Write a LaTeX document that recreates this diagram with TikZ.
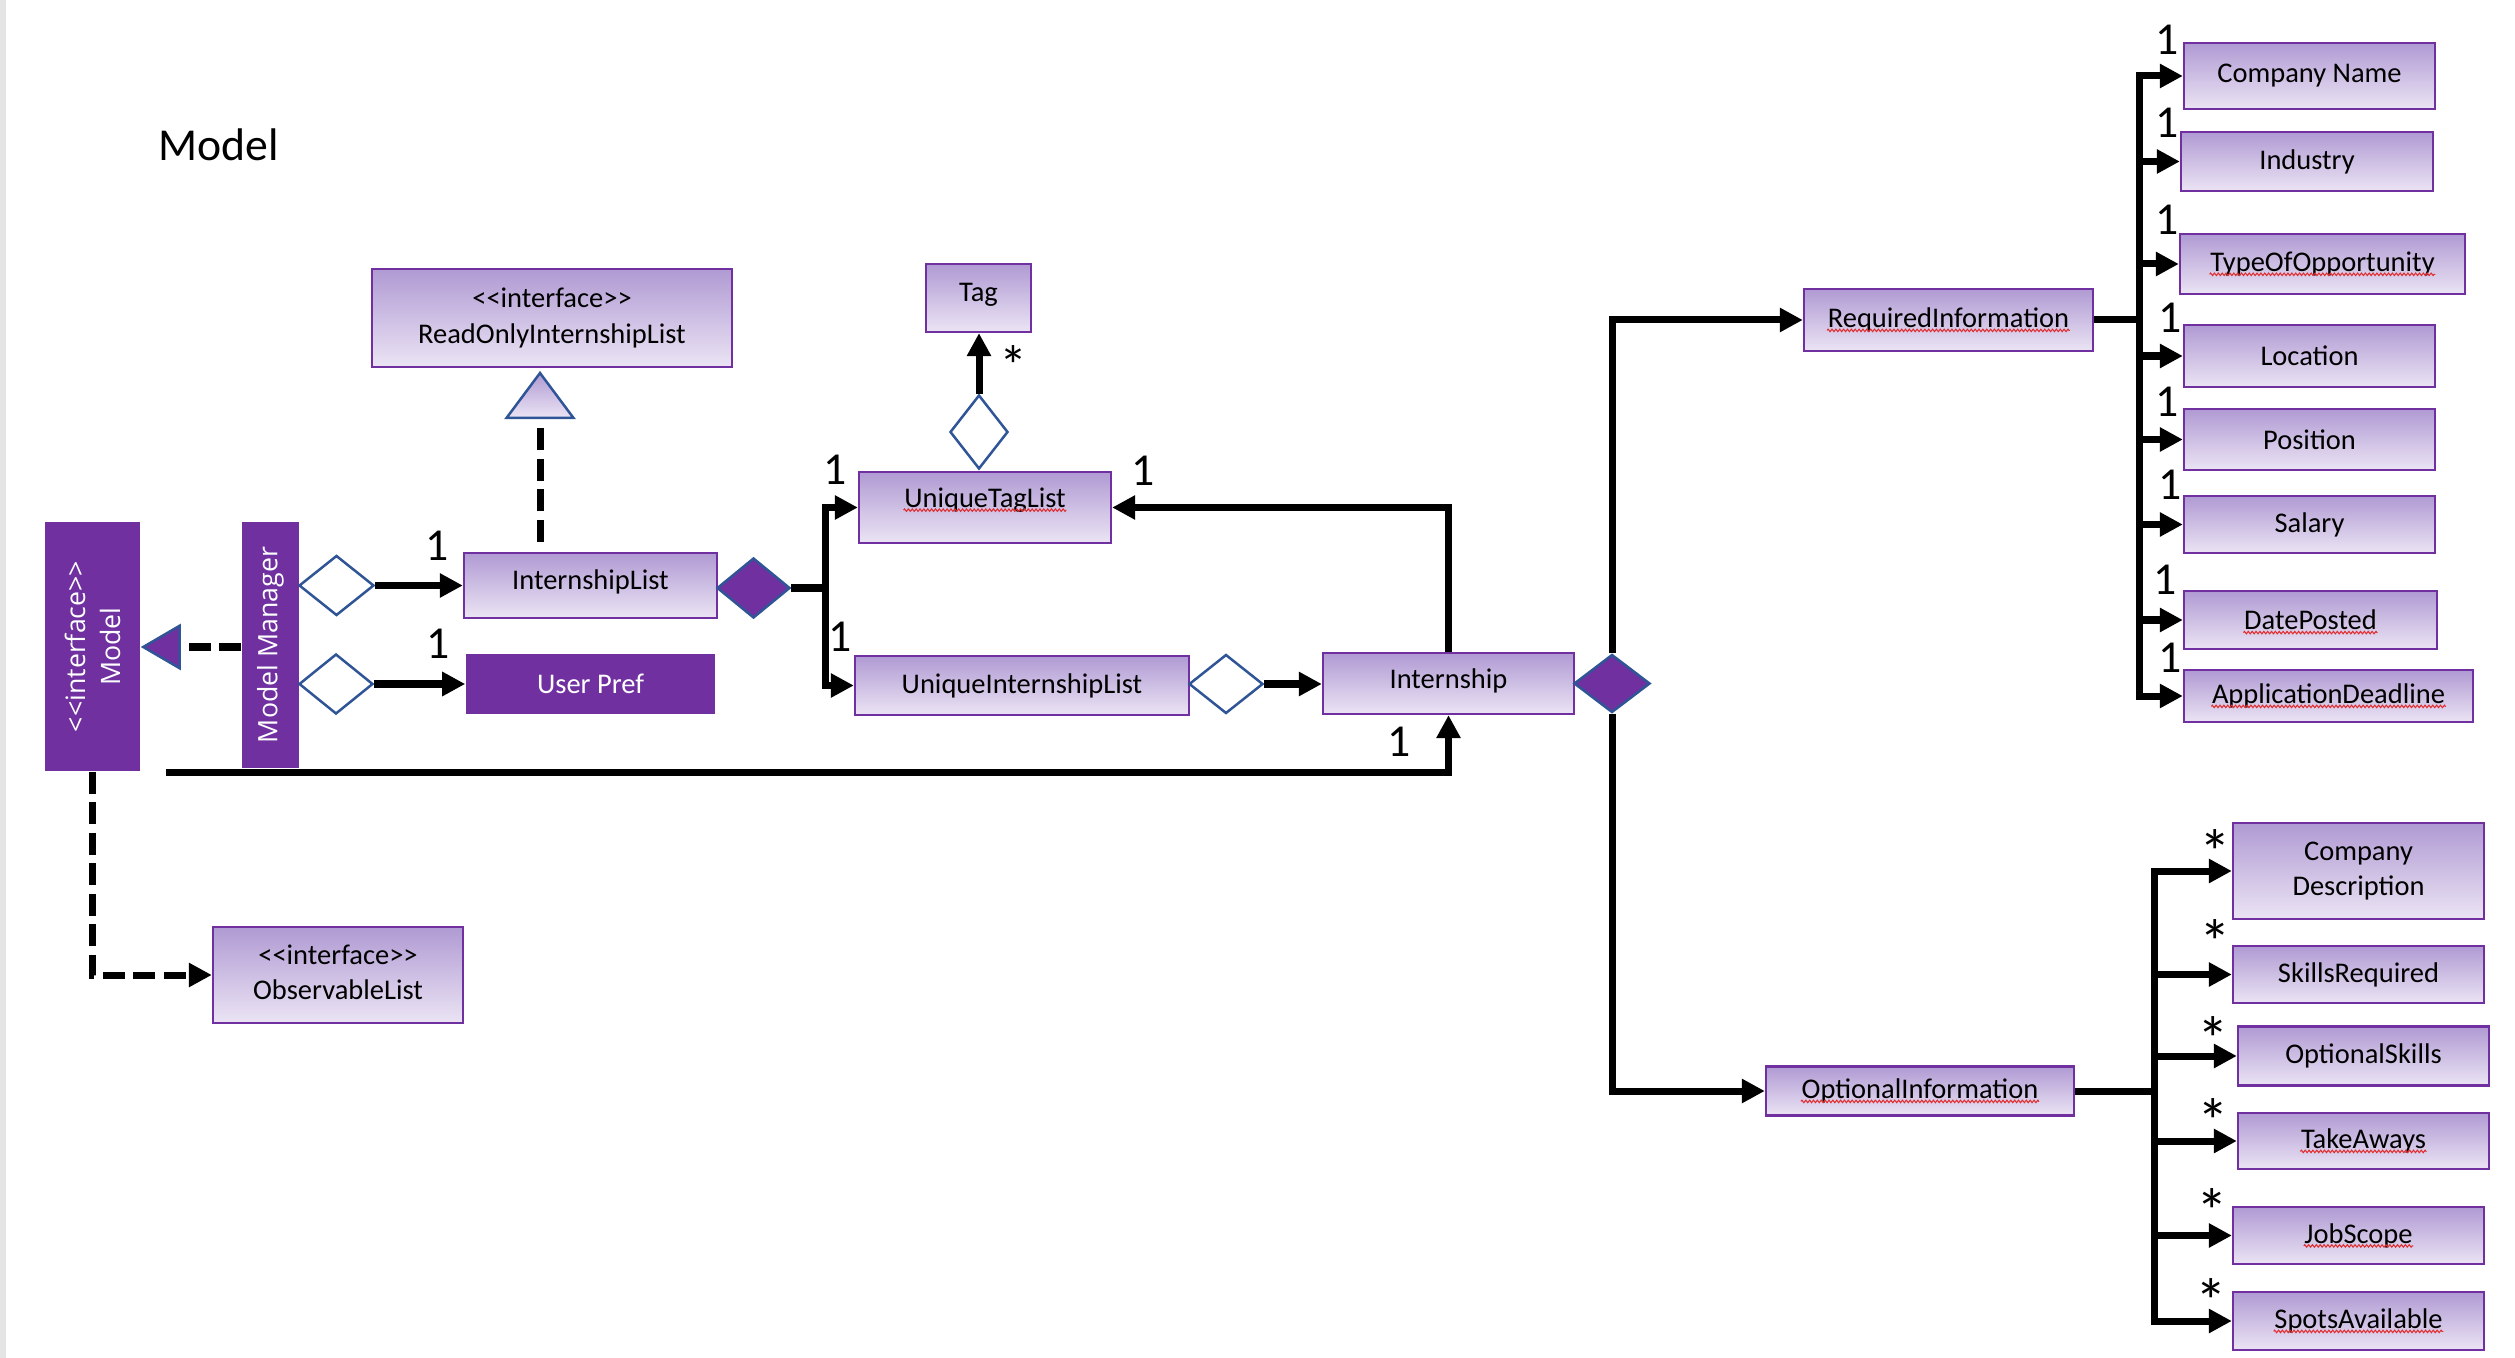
\documentclass[tikz,border=0pt]{standalone}
\usepackage{fontspec}
\setmainfont{Carlito}
\newfontfamily\bannerfont{Open Sans}
\usetikzlibrary{arrows.meta,shapes.geometric,decorations.pathmorphing}

\definecolor{umlpurple}{HTML}{7030A0}
\definecolor{gradtop}{RGB}{176,154,211}
\definecolor{gradbot}{RGB}{235,228,244}
\definecolor{diaedge}{HTML}{2F5597}
\definecolor{pageedge}{RGB}{228,228,228}
\definecolor{spellred}{RGB}{225,45,45}

% guillemet-safe stereotype brackets
\newcommand\stereo[1]{<\kern0pt<#1>\kern0pt>}
% text node with a red wavy underline: name, position, text
\newcommand\spelltext[3]{%
  \node[txt] (#1-t) at (#2) {#3};
  \draw[squig] ([yshift=-0.8pt]#1-t.base west) -- ([yshift=-0.8pt]#1-t.base east);}

\begin{document}
\begin{tikzpicture}[x=0.01cm, y=-0.01cm,
  cls/.style={rectangle, draw=umlpurple, line width=0.022cm,
    top color=gradtop, bottom color=gradbot, inner sep=0pt, align=center,
    font=\fontsize{8.1}{10}\selectfont},
  filledcls/.style={rectangle, fill=umlpurple, draw=none, text=white,
    inner sep=0pt, align=center, font=\fontsize{8.1}{10}\selectfont},
  banner/.style={rotate=90, text=white, inner sep=0pt, align=center,
    font=\bannerfont\fontsize{7.6}{10}\selectfont},
  txt/.style={inner sep=0pt, font=\fontsize{8.1}{10}\selectfont},
  mult/.style={inner sep=0pt, font=\fontsize{13}{15}\selectfont},
  many/.style={inner sep=0pt, anchor=base, font=\fontsize{18}{20}\selectfont},
  conn/.style={line width=0.07cm, draw=black},
  arr/.style={conn, -{Triangle[length=0.23cm, width=0.23cm]}},
  dashconn/.style={conn, dash pattern=on 0.22cm off 0.085cm},
  dasharr/.style={dashconn, -{Triangle[length=0.23cm, width=0.23cm]}},
  hollowdia/.style={diamond, draw=diaedge, fill=white, line width=0.025cm, inner sep=0pt},
  fulldia/.style={diamond, draw=diaedge, fill=umlpurple, line width=0.025cm, inner sep=0pt},
  squig/.style={draw=spellred, line width=0.3pt, decorate,
    decoration={zigzag, amplitude=0.35pt, segment length=1.1pt}},
]
\useasboundingbox (0,0) rectangle (2515,1358);
\fill[pageedge] (0,0) rectangle (6,1358);

% title
\node[anchor=base west, inner sep=0pt, font=\fontsize{13}{15}\selectfont] (title) at (158,161) {Model};

% left column
\node[filledcls, minimum width=0.95cm, minimum height=2.49cm] (model) at (92.5,646.5) {};
\node[banner] (model-t) at (model) {\stereo{interface}\\Model};
\node[filledcls, minimum width=0.57cm, minimum height=2.46cm] (mm) at (270.5,645) {};
\node[banner] (mm-t) at (mm) {Model Manager};

\node[cls, minimum width=3.60cm, minimum height=0.98cm] (rol) at (552,318) {\stereo{interface}\\ReadOnlyInternshipList};
\node[cls, minimum width=2.53cm, minimum height=0.65cm] (il) at (590.5,585.5) {};
\node[txt] (il-t) at (590.5,582) {InternshipList};
\node[filledcls, minimum width=2.49cm, minimum height=0.60cm] (up) at (590.5,684) {User Pref};
\node[cls, minimum width=2.50cm, minimum height=0.96cm] (obs) at (338,975) {};
\node[txt, align=center] (obs-t) at (338,972) {\stereo{interface}\\ObservableList};

% middle
\node[cls, minimum width=1.05cm, minimum height=0.68cm] (tag) at (978.5,298) {};
\node[txt] (tag-t) at (978.5,295) {Tag};
\node[cls, minimum width=2.52cm, minimum height=0.71cm] (utl) at (985,507.5) {};
\spelltext{utl}{985,500}{UniqueTagList}
\node[cls, minimum width=3.34cm, minimum height=0.59cm] (uil) at (1022,685.5) {UniqueInternshipList};
\node[cls, minimum width=2.51cm, minimum height=0.61cm] (intern) at (1448.5,683.5) {};
\node[txt] (intern-t) at (1448.5,681) {Internship};

% information groups
\node[cls, minimum width=2.89cm, minimum height=0.62cm] (req) at (1948.5,320) {};
\spelltext{req}{req}{RequiredInformation}
\node[cls, minimum width=3.08cm, minimum height=0.49cm] (opt) at (1920,1091) {};
\spelltext{opt}{opt}{OptionalInformation}

% required fields
\node[cls, minimum width=2.51cm, minimum height=0.66cm] (cname) at (2309.5,76) {Company Name};
\node[cls, minimum width=2.52cm, minimum height=0.59cm] (ind) at (2307,161.5) {Industry};
\node[cls, minimum width=2.85cm, minimum height=0.60cm] (too) at (2322.5,264) {};
\spelltext{too}{too}{TypeOfOpportunity}
\node[cls, minimum width=2.51cm, minimum height=0.62cm] (loc) at (2309.5,356) {Location};
\node[cls, minimum width=2.51cm, minimum height=0.61cm] (pos) at (2309.5,439.5) {Position};
\node[cls, minimum width=2.51cm, minimum height=0.57cm] (sal) at (2309.5,524.5) {Salary};
\node[cls, minimum width=2.53cm, minimum height=0.58cm] (dp) at (2310.5,620) {};
\spelltext{dp}{dp}{DatePosted}
\node[cls, minimum width=2.89cm, minimum height=0.52cm] (ad) at (2328.5,696) {};
\spelltext{ad}{ad}{ApplicationDeadline}

% optional fields
\node[cls, minimum width=2.51cm, minimum height=0.96cm] (cd) at (2358.5,871) {Company\\Description};
\node[cls, minimum width=2.51cm, minimum height=0.57cm] (sr) at (2358.5,974.5) {SkillsRequired};
\node[cls, minimum width=2.51cm, minimum height=0.59cm] (os) at (2363.5,1056) {OptionalSkills};
\node[cls, minimum width=2.51cm, minimum height=0.56cm] (ta) at (2363.5,1141) {};
\spelltext{ta}{ta}{TakeAways}
\node[cls, minimum width=2.51cm, minimum height=0.57cm] (js) at (2358.5,1235.5) {};
\spelltext{js}{js}{JobScope}
\node[cls, minimum width=2.51cm, minimum height=0.58cm] (sa) at (2358.5,1321) {};
\spelltext{sa}{sa}{SpotsAvailable}

% aggregation / composition diamonds
\node[hollowdia, minimum width=0.75cm, minimum height=0.60cm] (d1) at (336.5,585.5) {};
\node[hollowdia, minimum width=0.74cm, minimum height=0.60cm] (d2) at (336,684) {};
\node[fulldia, minimum width=0.73cm, minimum height=0.60cm] (d3) at (753.5,588) {};
\node[hollowdia, minimum width=0.58cm, minimum height=0.74cm] (d4) at (979,432) {};
\node[hollowdia, minimum width=0.74cm, minimum height=0.59cm] (d5) at (1226,684) {};
\node[fulldia, minimum width=0.76cm, minimum height=0.58cm] (d6) at (1612,683.5) {};

% realization of Model by ModelManager
\coordinate (realz) at (0,647);
\draw[dashconn, -{Triangle[length=0.40cm, width=0.46cm, fill=umlpurple, color=diaedge, line width=0.025cm]}]
  (mm.west |- realz) -- (model.east |- realz);

% InternshipList implements ReadOnlyInternshipList
\coordinate (inhtip) at (540,373);
\coordinate (inhbase) at (540,418);
\path[draw=diaedge, line width=0.025cm, top color=gradtop, bottom color=gradbot]
  (inhtip) -- ++(-33.5,45) -- ++(67,0) -- cycle;
\draw[dashconn, shorten <=0.1cm, shorten >=0.06cm] (inhbase |- il.north) -- (inhbase);

% Model uses ObservableList
\draw[dasharr] (model.south) |- (obs.west);

% ModelManager associations
\draw[arr] (d1.east) -- (d1.east -| il.west);
\draw[arr] (d2.east) -- (d2.east -| up.west);
\coordinate (mmfoot) at (166,772);
\draw[arr] (mmfoot) -| (intern.south);

% InternshipList composition
\coordinate (ilj) at (825,588);
\draw[conn] (d3.east) -- (ilj);
\draw[arr] (ilj) |- (utl.west);
\draw[arr] (ilj) |- (uil.west);

% tags
\draw[arr] (d4.north) -- (d4.north |- tag.south);

% internships
\draw[arr] (d5.east) -- (d5.east -| intern.west);
\draw[arr] (intern.north) |- (utl.east);
\draw[arr] (d6.north) |- (req.west);
\draw[arr] (d6.south) |- (opt.west);

% required bus
\coordinate (rbus) at (2139,320);
\draw[conn] (req.east) -- (rbus);
\foreach \f in {cname,ind,too,loc,pos,sal,dp,ad}
  \draw[arr] (rbus) |- (\f.west);

% optional bus
\coordinate (obus) at (2154,1091);
\draw[conn] (opt.east) -- (obus);
\foreach \f in {cd,sr,os,ta,js,sa}
  \draw[arr] (obus) |- (\f.west);

% multiplicities
\node[mult] (m1) at (437,546) {1};
\node[mult] (m2) at (438,644) {1};
\node[mult] (m3) at (835,470) {1};
\node[mult] (m4) at (1143,471) {1};
\node[mult] (m5) at (840,637) {1};
\node[mult] (m6) at (1399,742) {1};
\node[many, font=\fontsize{16}{18}\selectfont] (m7) at (1013,386) {*};

\node[mult] (r1) at (2167,40) {1};
\node[mult] (r2) at (2167,123) {1};
\node[mult] (r3) at (2167,220) {1};
\node[mult] (r4) at (2170,318) {1};
\node[mult] (r5) at (2167,402) {1};
\node[mult] (r6) at (2170,485) {1};
\node[mult] (r7) at (2165,580) {1};
\node[mult] (r8) at (2170,658) {1};

\node[many] (o1) at (2215,874) {*};
\node[many] (o2) at (2215,964) {*};
\node[many] (o3) at (2213,1061) {*};
\node[many] (o4) at (2213,1143) {*};
\node[many] (o5) at (2212,1233) {*};
\node[many] (o6) at (2211,1323) {*};
\end{tikzpicture}
\end{document}
